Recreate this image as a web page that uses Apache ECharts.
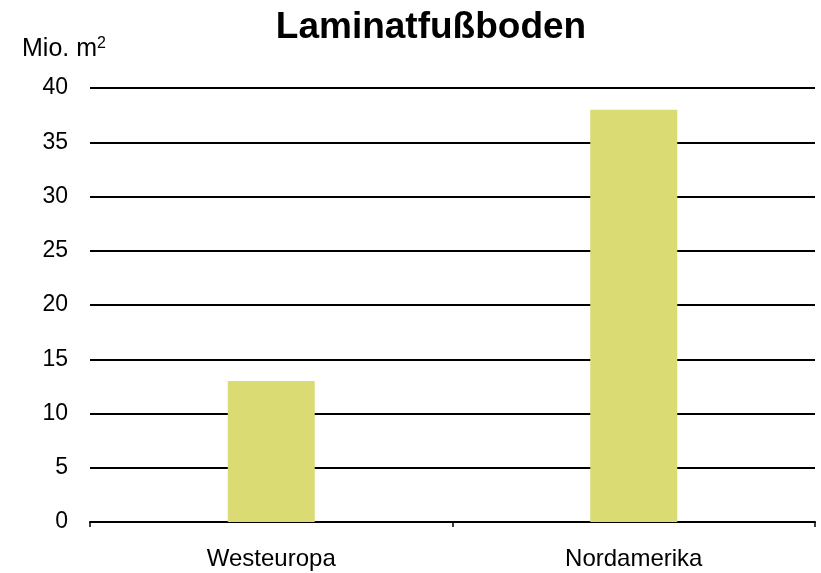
<!DOCTYPE html>
<html>
<head>
<meta charset="utf-8">
<script src="https://cdn.jsdelivr.net/npm/echarts@6/dist/echarts.min.js"></script>
<style>
  html, body { margin: 0; padding: 0; background: #fff; }
  #chart { width: 821px; height: 573px; }
</style>
</head>
<body>
<div id="chart"></div>
<script>
const categories = ['Westeuropa', 'Nordamerika']
const values = [13, 38]
const barColor = '#DADC73'
const font = '"Liberation Sans", Arial, sans-serif'

const chart = echarts.init(document.getElementById('chart'))
chart.setOption({
  animation: false,
  textStyle: { fontFamily: font },
  title: {
    text: 'Laminatfußboden',
    left: 426,
    textAlign: 'center',
    top: 4,
    textStyle: { fontSize: 37, fontWeight: 'bold', color: '#000', fontFamily: font },
  },
  grid: { left: 90, right: 6, top: 88, bottom: 51 },
  xAxis: {
    type: 'category',
    data: categories,
    boundaryGap: true,
    axisLine: { lineStyle: { color: '#000', width: 2 } },
    axisTick: { show: true, length: 5, lineStyle: { color: '#000', width: 1.5 } },
    axisLabel: { color: '#000', fontSize: 24, margin: 25, fontFamily: font },
  },
  yAxis: {
    type: 'value',
    min: 0,
    max: 40,
    interval: 5,
    name: '{a|Mio. m}{b|2}',
    nameLocation: 'end',
    nameGap: 39,
    nameTextStyle: {
      align: 'left',
      verticalAlign: 'middle',
      padding: [0, 0, 0, -68],
      rich: {
        a: { fontSize: 25, color: '#000', fontFamily: font },
        b: { fontSize: 16, color: '#000', fontFamily: font, verticalAlign: 'top', padding: [0, 0, 10, 0] },
      },
    },
    axisLine: { show: false },
    axisTick: { show: false },
    axisLabel: { color: '#000', fontSize: 23, margin: 22, fontFamily: font },
    splitLine: { lineStyle: { color: '#000', width: 2 } },
  },
  series: [
    {
      type: 'bar',
      data: values,
      barWidth: '24%',
      itemStyle: { color: barColor },
    },
  ],
})
</script>
</body>
</html>
